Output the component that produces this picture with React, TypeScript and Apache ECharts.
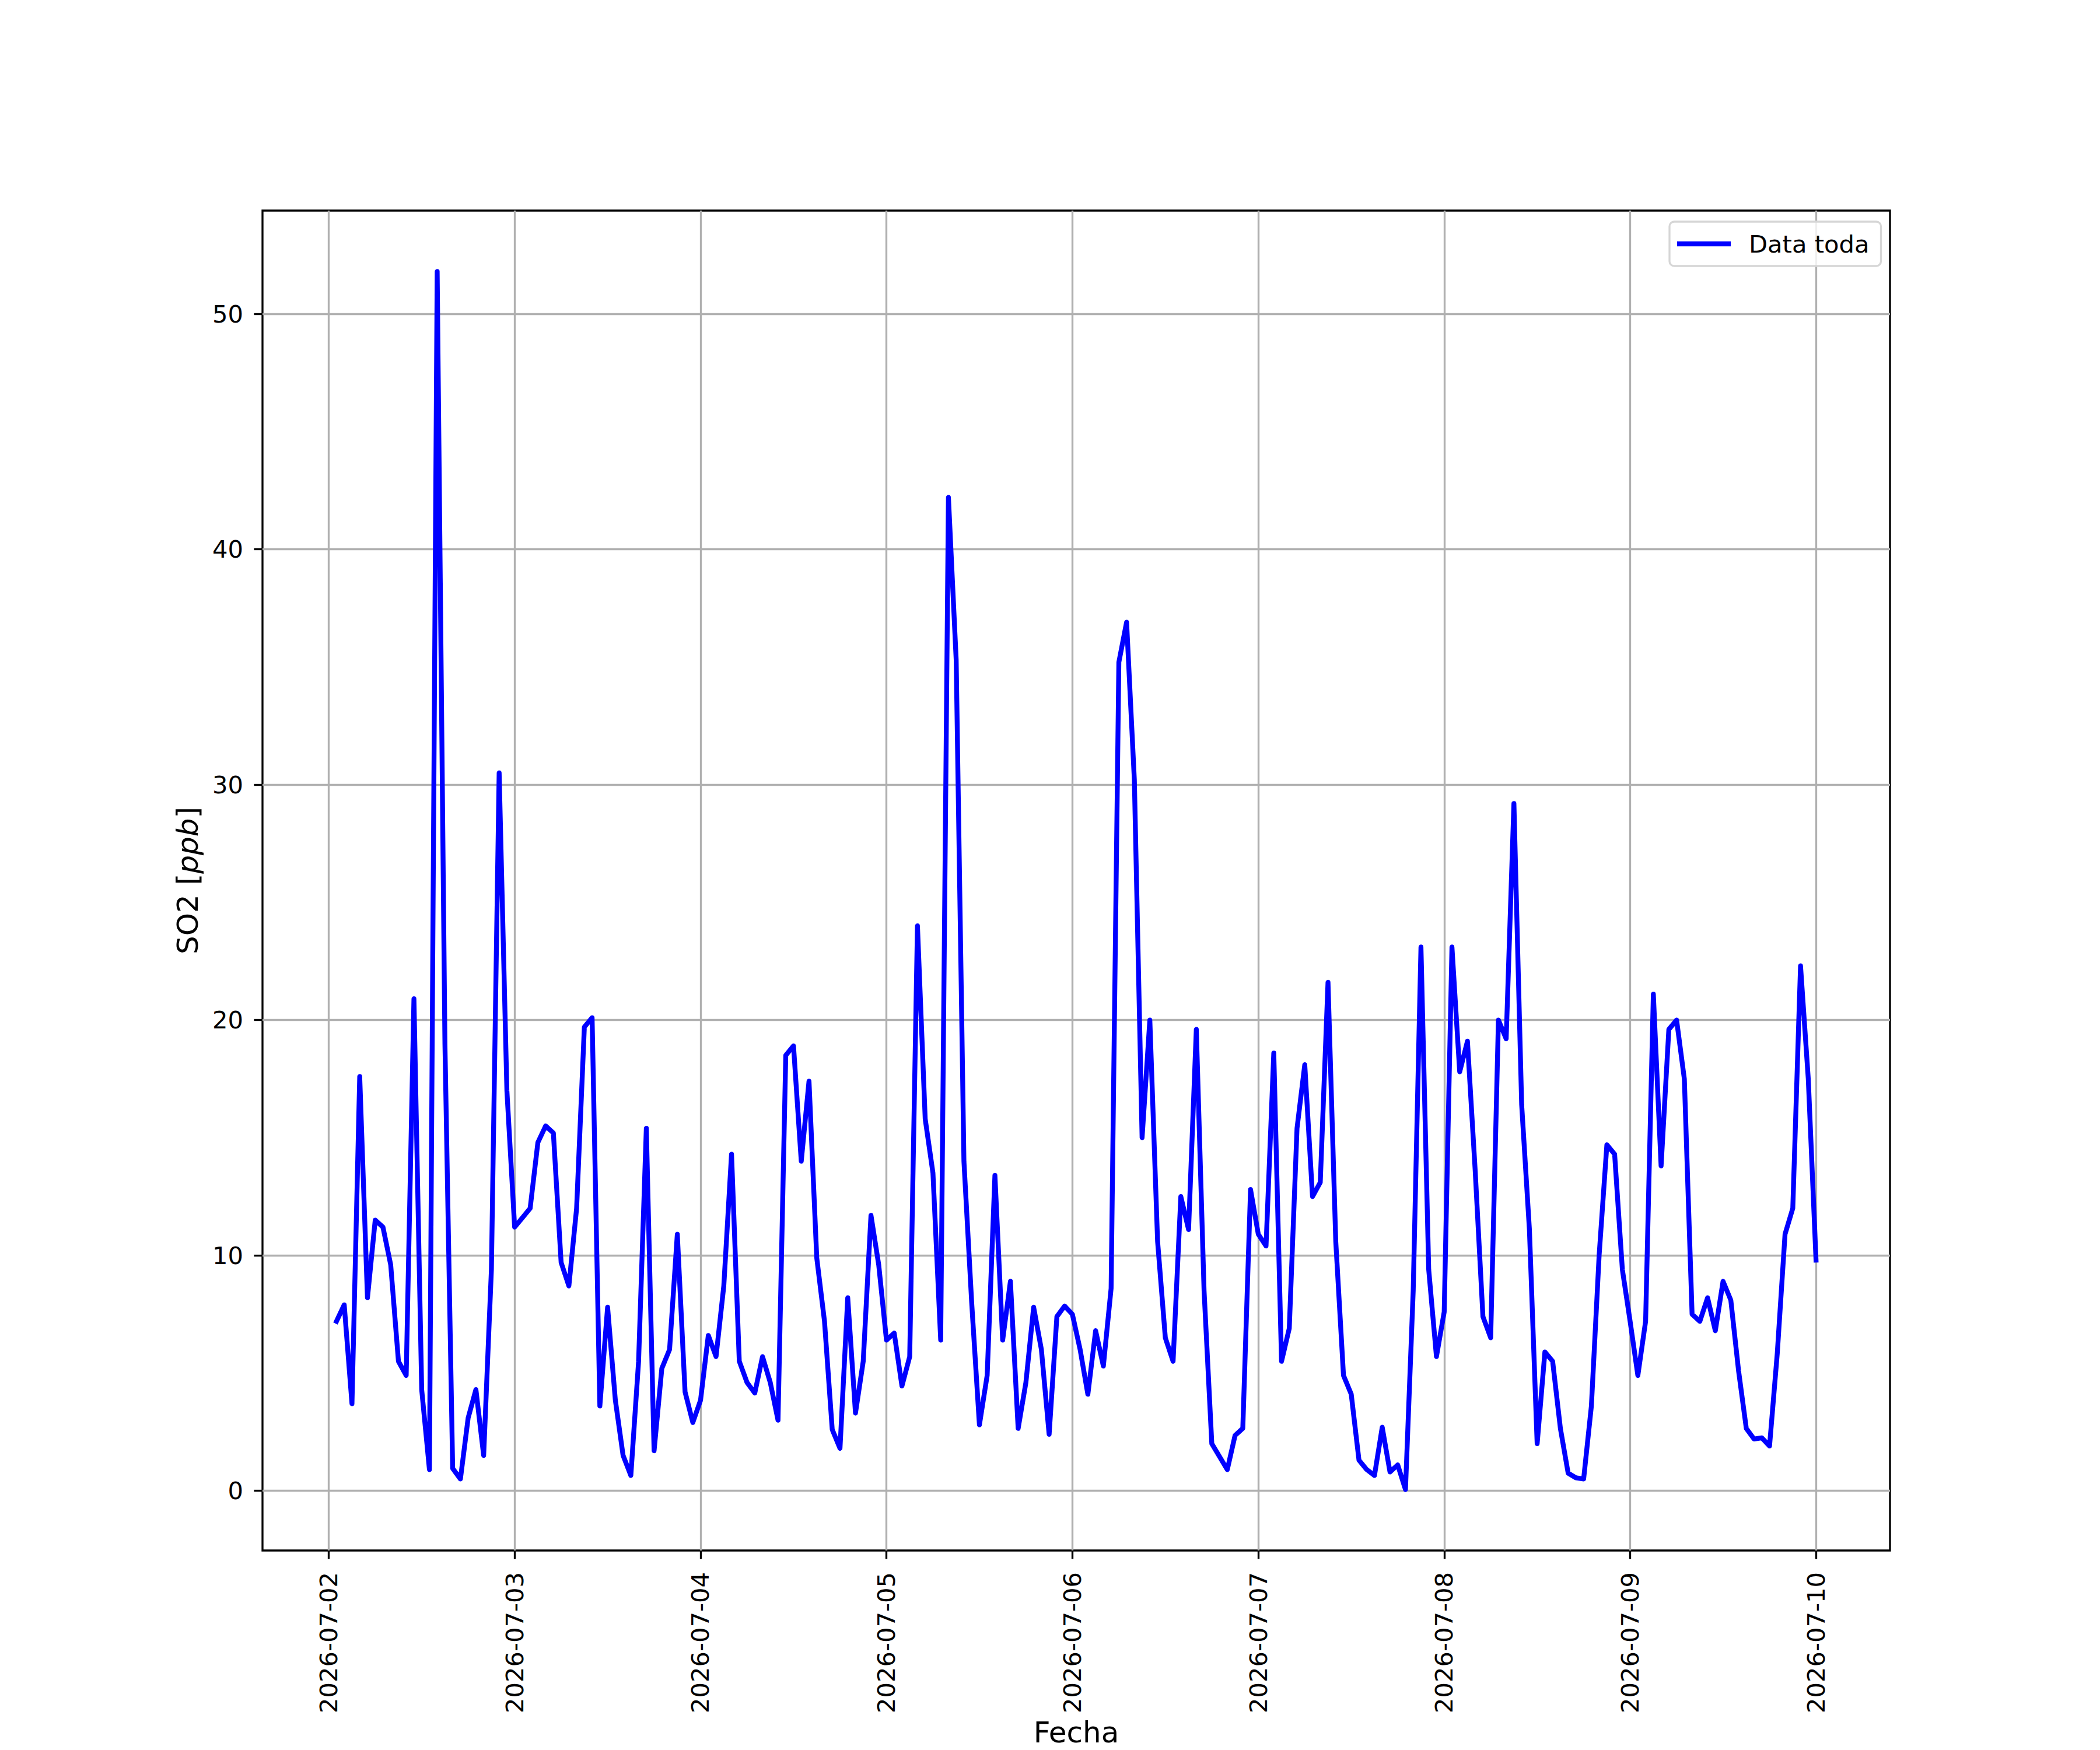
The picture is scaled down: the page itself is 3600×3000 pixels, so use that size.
import React, { useEffect, useRef } from "react";
import * as echarts from "echarts";

// SO2 hourly values, one array per day (07-02 starts at 01:00)
const day0702 = [7.2, 7.9, 3.7, 17.6, 8.2, 11.5, 11.2, 9.6, 5.5, 4.9, 20.9, 4.3, 0.9, 51.8, 19.0, 0.95, 0.5, 3.1, 4.3, 1.5, 9.4, 30.5, 17.0];
const day0703 = [11.2, 11.6, 12.0, 14.8, 15.5, 15.2, 9.7, 8.7, 12.0, 19.7, 20.1, 3.6, 7.8, 3.85, 1.5, 0.65, 5.5, 15.4, 1.7, 5.2, 6.0, 10.9, 4.2, 2.9];
const day0704 = [3.85, 6.6, 5.7, 8.7, 14.3, 5.5, 4.6, 4.15, 5.7, 4.6, 3.0, 18.5, 18.9, 14.0, 17.4, 9.9, 7.2, 2.6, 1.8, 8.2, 3.3, 5.5, 11.7, 9.6];
const day0705 = [6.4, 6.7, 4.45, 5.7, 24.0, 15.8, 13.5, 6.4, 42.2, 35.3, 14.0, 8.0, 2.8, 4.9, 13.4, 6.4, 8.9, 2.65, 4.6, 7.8, 6.0, 2.4, 7.4, 7.85];
const day0706 = [7.5, 6.0, 4.1, 6.8, 5.3, 8.6, 35.2, 36.9, 30.2, 15.0, 20.0, 10.6, 6.5, 5.5, 12.5, 11.1, 19.6, 8.5, 2.0, 1.45, 0.9, 2.35, 2.65, 12.8];
const day0707 = [10.9, 10.4, 18.6, 5.5, 6.9, 15.4, 18.1, 12.5, 13.1, 21.6, 10.6, 4.9, 4.1, 1.3, 0.9, 0.65, 2.7, 0.8, 1.1, 0.05, 8.5, 23.1, 9.4, 5.7];
const day0708 = [7.6, 23.1, 17.8, 19.1, 13.6, 7.4, 6.5, 20.0, 19.2, 29.2, 16.4, 11.1, 2.0, 5.9, 5.5, 2.65, 0.75, 0.55, 0.5, 3.6, 10.0, 14.7, 14.3, 9.4];
const day0709 = [7.2, 4.9, 7.2, 21.1, 13.8, 19.6, 20.0, 17.5, 7.5, 7.2, 8.2, 6.8, 8.9, 8.1, 5.1, 2.65, 2.2, 2.25, 1.9, 5.85, 10.9, 12.0, 22.3, 17.5];
const day0710 = [9.8];

const startTime = Date.UTC(2026, 6, 2, 1, 0, 0);
const hourMs = 3600000;

const xTickLabels = ["2026-07-02", "2026-07-03", "2026-07-04", "2026-07-05", "2026-07-06", "2026-07-07", "2026-07-08", "2026-07-09", "2026-07-10"];
const yTicks = [0, 10, 20, 30, 40, 50];

const seriesName = "Data toda";
const xName = "Fecha";
const yName = "SO2 [{i|ppb}]";

export default function App() {
  const ref = useRef<HTMLDivElement>(null);

  useEffect(() => {
    document.body.style.margin = "0";
    if (!ref.current) return;
    const chart = echarts.init(ref.current, undefined, { renderer: "svg" });

    const values = [...day0702, ...day0703, ...day0704, ...day0705, ...day0706, ...day0707, ...day0708, ...day0709, ...day0710];
    const data = values.map((v, i) => [startTime + i * hourMs, v]);

    const xFirst = data[0][0];
    const xLast = data[data.length - 1][0];
    const xPad = (xLast - xFirst) * 0.05;
    let yMinD = Infinity, yMaxD = -Infinity;
    values.forEach((v) => { yMinD = Math.min(yMinD, v); yMaxD = Math.max(yMaxD, v); });
    const yPad = (yMaxD - yMinD) * 0.05;

    const xTickValues = xTickLabels.map((s) => Date.parse(s + "T00:00:00Z"));

    const font = "DejaVu Sans";
    const lw = 3.33;

    chart.setOption({
      animation: false,
      backgroundColor: "#ffffff",
      textStyle: { fontFamily: font },
      grid: {
        left: 450,
        top: 361,
        width: 2790,
        height: 2309,
        show: true,
        borderColor: "#000000",
        borderWidth: lw,
        backgroundColor: "#ffffff",
        containLabel: false,
      },
      legend: {
        left: 2862,
        top: 380,
        padding: [17, 20, 17, 13],
        backgroundColor: "rgba(255,255,255,0.8)",
        borderColor: "#d6d6d6",
        borderWidth: 3.3,
        borderRadius: 8,
        icon: "rect",
        itemWidth: 92,
        itemHeight: 8.33,
        data: [seriesName],
        textStyle: {
          fontFamily: font,
          fontSize: 41.67,
          color: "#000000",
          padding: [0, 0, 0, 26],
        },
      },
      xAxis: {
        type: "value",
        min: xFirst - xPad,
        max: xLast + xPad,
        name: xName,
        nameLocation: "middle",
        nameGap: 283,
        nameTextStyle: { fontFamily: font, fontSize: 50, color: "#000000" },
        axisLine: { show: false, onZero: false },
        axisTick: {
          show: true,
          customValues: xTickValues,
          length: 14.58,
          lineStyle: { color: "#000000", width: lw },
        },
        axisLabel: {
          customValues: xTickValues,
          rotate: 90,
          margin: 37,
          fontFamily: font,
          fontSize: 41.67,
          color: "#000000",
          formatter: (v: number) => new Date(v).toISOString().slice(0, 10),
        },
        splitLine: { show: true, lineStyle: { color: "#b0b0b0", width: lw } },
      },
      yAxis: {
        type: "value",
        min: yMinD - yPad,
        max: yMaxD + yPad,
        name: yName,
        nameLocation: "middle",
        nameGap: 103,
        nameRotate: 90,
        nameTextStyle: {
          fontFamily: font,
          fontSize: 50,
          color: "#000000",
          rich: { i: { fontFamily: font, fontSize: 50, fontStyle: "italic", color: "#000000" } },
        },
        axisLine: { show: false, onZero: false },
        axisTick: {
          show: true,
          customValues: yTicks,
          length: 14.58,
          lineStyle: { color: "#000000", width: lw },
        },
        axisLabel: {
          customValues: yTicks,
          margin: 33,
          fontFamily: font,
          fontSize: 41.67,
          color: "#000000",
        },
        splitLine: { show: true, lineStyle: { color: "#b0b0b0", width: lw } },
      },
      series: [
        {
          name: seriesName,
          type: "line",
          data,
          showSymbol: false,
          symbol: "none",
          color: "#0000ff",
          lineStyle: { color: "#0000ff", width: 8.33, join: "round", cap: "square" },
          clip: true,
        },
      ],
    });

    return () => chart.dispose();
  }, []);

  return <div ref={ref} style={{ position: "absolute", left: 0, top: 0, width: 3600, height: 3000 }} />;
}
